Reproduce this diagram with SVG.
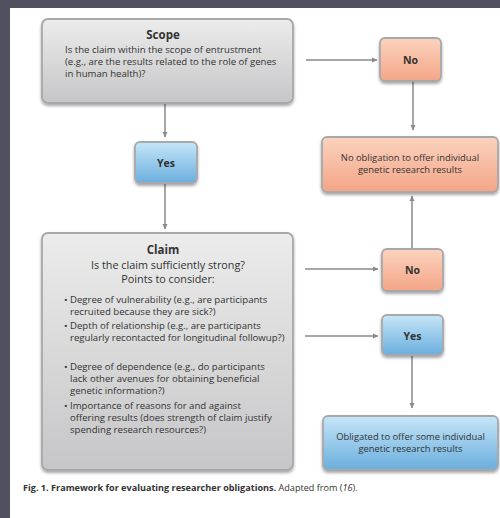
<svg xmlns="http://www.w3.org/2000/svg" width="500" height="518" viewBox="0 0 500 518">
<defs>
<linearGradient id="gGray" x1="0" y1="0" x2="0" y2="1"><stop offset="0" stop-color="#ececec"/><stop offset="1" stop-color="#c6c6c8"/></linearGradient>
<linearGradient id="gOrange" x1="0" y1="0" x2="0" y2="1"><stop offset="0" stop-color="#fbd3be"/><stop offset="1" stop-color="#f4a587"/></linearGradient>
<linearGradient id="gBlue" x1="0" y1="0" x2="0" y2="1"><stop offset="0" stop-color="#c6e6f8"/><stop offset="1" stop-color="#6aaedd"/></linearGradient>
<filter id="sh" x="-10%" y="-10%" width="120%" height="130%"><feGaussianBlur in="SourceAlpha" stdDeviation="1.5"/><feOffset dy="1.5"/><feComponentTransfer><feFuncA type="linear" slope="0.35"/></feComponentTransfer><feMerge><feMergeNode/><feMergeNode in="SourceGraphic"/></feMerge></filter>
<marker id="ah" markerWidth="6" markerHeight="6" refX="5" refY="3" orient="auto" markerUnits="userSpaceOnUse"><path d="M0,0.5 L5.5,3 L0,5.5 Z" fill="#8a8a8a"/></marker>
</defs>
<style>
.t{font-family:"Open Sans","Liberation Sans",sans-serif;fill:#333}
.title{font-size:11.5px;font-weight:bold}
.sm{font-size:9.6px}
.mid{font-size:9.4px}
.lbl{font-size:10.5px;font-weight:bold}
.conn{stroke:#8a8a8a;stroke-width:1.5;fill:none;marker-end:url(#ah)}
.box{stroke:#a8a8aa;stroke-width:1.8;filter:url(#sh)}
</style>
<rect x="0" y="0" width="500" height="518" fill="#ffffff"/>
<rect x="0" y="0" width="500" height="8" fill="#50505e"/>
<rect x="0" y="0" width="10" height="518" fill="#50505e"/>

<g id="connectors">
<line class="conn" x1="306" y1="60" x2="377" y2="60"/>
<line class="conn" x1="413" y1="82" x2="413" y2="130"/>
<line class="conn" x1="165" y1="104" x2="165" y2="137"/>
<line class="conn" x1="165" y1="184" x2="165" y2="229"/>
<line class="conn" x1="412" y1="248" x2="412" y2="196"/>
<line class="conn" x1="305" y1="269" x2="378" y2="269"/>
<line class="conn" x1="305" y1="336" x2="378" y2="336"/>
<line class="conn" x1="412" y1="356" x2="412" y2="408"/>
</g>

<g id="scope">
<rect class="box" x="42" y="19" width="251" height="84" rx="6" fill="url(#gGray)"/>
<text class="t title" x="163" y="39" text-anchor="middle">Scope</text>
<text class="t sm" x="65" y="53">Is the claim within the scope of entrustment</text>
<text class="t sm" x="65" y="65">(e.g., are the results related to the role of genes</text>
<text class="t sm" x="65" y="77">in human health)?</text>
</g>

<g id="no1">
<rect class="box" x="380" y="38" width="61" height="43" rx="5" fill="url(#gOrange)"/>
<text class="t lbl" x="410.5" y="63.5" text-anchor="middle">No</text>
</g>

<g id="yes1">
<rect class="box" x="135" y="142" width="62" height="41" rx="5" fill="url(#gBlue)"/>
<text class="t lbl" x="166" y="166.5" text-anchor="middle">Yes</text>
</g>

<g id="no-obligation">
<rect class="box" x="322" y="137" width="176" height="55" rx="5" fill="url(#gOrange)"/>
<text class="t mid" x="410" y="161" text-anchor="middle">No obligation to offer individual</text>
<text class="t mid" x="410" y="173" text-anchor="middle">genetic research results</text>
</g>

<g id="claim">
<rect class="box" x="42" y="233" width="251" height="237" rx="6" fill="url(#gGray)"/>
<text class="t title" x="163" y="254" text-anchor="middle">Claim</text>
<text class="t" x="168" y="269" text-anchor="middle" font-size="10.8">Is the claim sufficiently strong?</text>
<text class="t" x="168" y="283" text-anchor="middle" font-size="10.8">Points to consider:</text>
<g class="t sm">
<text x="64" y="303">•</text>
<text x="70" y="303">Degree of vulnerability (e.g., are participants</text>
<text x="70" y="315">recruited because they are sick?)</text>
<text x="64" y="329">•</text>
<text x="70" y="329">Depth of relationship (e.g., are participants</text>
<text x="70" y="341">regularly recontacted for longitudinal followup?)</text>
<text x="64" y="370">•</text>
<text x="70" y="370">Degree of dependence (e.g., do participants</text>
<text x="70" y="382">lack other avenues for obtaining beneficial</text>
<text x="70" y="394">genetic information?)</text>
<text x="64" y="409">•</text>
<text x="70" y="409">Importance of reasons for and against</text>
<text x="70" y="421">offering results (does strength of claim justify</text>
<text x="70" y="433">spending research resources?)</text>
</g>
</g>

<g id="no2">
<rect class="box" x="382" y="249" width="61" height="42" rx="5" fill="url(#gOrange)"/>
<text class="t lbl" x="412.5" y="274" text-anchor="middle">No</text>
</g>

<g id="yes2">
<rect class="box" x="382" y="315" width="61" height="40" rx="5" fill="url(#gBlue)"/>
<text class="t lbl" x="412.5" y="339.5" text-anchor="middle">Yes</text>
</g>

<g id="obligated">
<rect class="box" x="323" y="416" width="175" height="54" rx="5" fill="url(#gBlue)"/>
<text class="t mid" x="410.5" y="440" text-anchor="middle">Obligated to offer some individual</text>
<text class="t mid" x="410.5" y="452" text-anchor="middle">genetic research results</text>
</g>

<text class="t" x="23" y="491" font-size="9.1" fill="#222"><tspan font-weight="bold">Fig. 1. Framework for evaluating researcher obligations.</tspan> Adapted from (<tspan font-style="italic">16</tspan>).</text>
</svg>
